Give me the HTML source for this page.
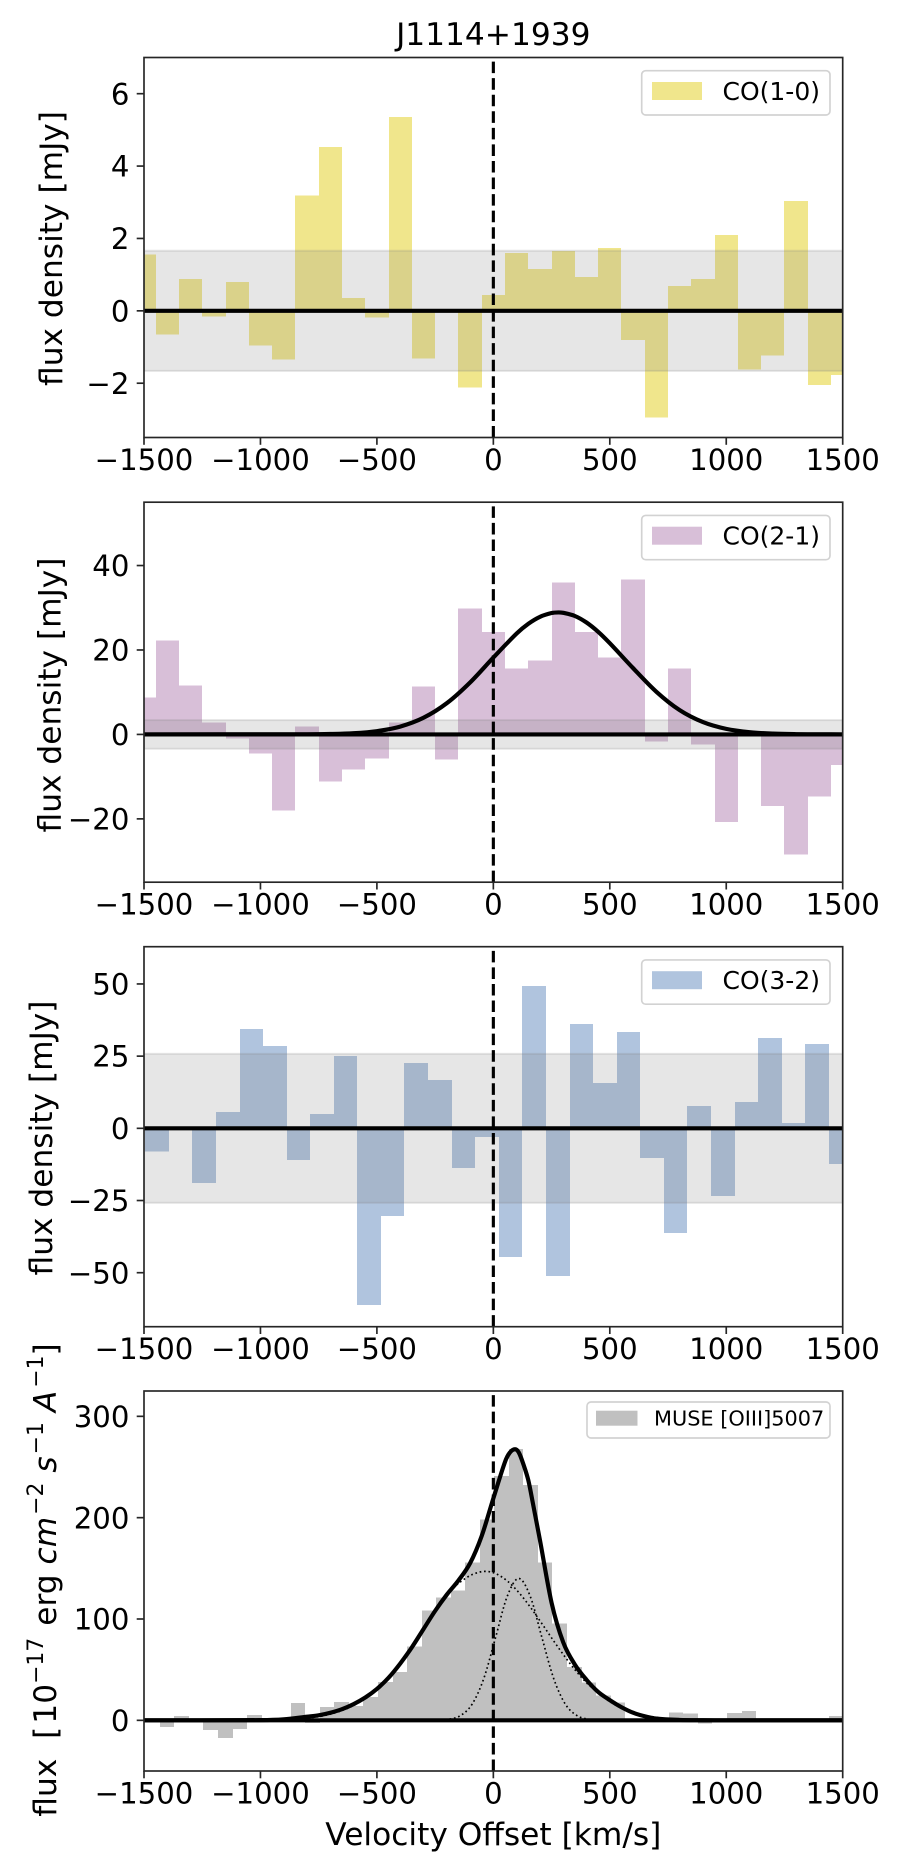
<!DOCTYPE html>
<html lang="en">
<head>
<meta charset="utf-8">
<title>J1114+1939 spectra</title>
<style>
html,body{margin:0;padding:0;background:#fff;}
svg{display:block;font-family:"DejaVu Sans","Liberation Sans",sans-serif;fill:#000;}
text{white-space:pre;}
.tick{font-size:29.17px;}
.axt{font-size:31.25px;}
.leg{font-size:25px;}
</style>
</head>
<body>
<svg id="fig" xmlns="http://www.w3.org/2000/svg" width="900" height="1875" viewBox="0 0 900 1875">
  <rect x="0" y="0" width="900" height="1875" fill="#fff"/>
  <defs>
    <clipPath id="clip-p1"><rect x="144" y="57.5" width="698.7" height="380"/></clipPath>
    <clipPath id="clip-p2"><rect x="144" y="502.2" width="698.7" height="380"/></clipPath>
    <clipPath id="clip-p3"><rect x="144" y="946.7" width="698.7" height="380"/></clipPath>
    <clipPath id="clip-p4"><rect x="144" y="1391" width="698.7" height="380"/></clipPath>
  </defs>
  <text x="493.3" y="45" text-anchor="middle" class="axt">J1114+1939</text>

  <g id="p1"></g>
  <g id="p2"></g>
  <g id="p3"></g>
  <g id="p4"></g>

  <text class="axt" text-anchor="middle" transform="translate(62 248.5) rotate(-90)">flux density [mJy]</text>
  <text class="axt" text-anchor="middle" transform="translate(60.5 695) rotate(-90)">flux density [mJy]</text>
  <text class="axt" text-anchor="middle" transform="translate(52 1138) rotate(-90)">flux density [mJy]</text>
  <text class="axt" text-anchor="middle" transform="translate(56 1580) rotate(-90)">flux  [<tspan dx="3">10</tspan><tspan font-size="21.9" dy="-13">−17</tspan><tspan dy="13" dx="2"> erg </tspan><tspan font-style="italic">cm</tspan><tspan font-size="21.9" dy="-13" dx="2">−2</tspan><tspan dy="13"> </tspan><tspan font-style="italic">s</tspan><tspan font-size="21.9" dy="-13" dx="2">−1</tspan><tspan dy="13"> </tspan><tspan font-style="italic">A</tspan><tspan font-size="21.9" dy="-13" dx="3">−1</tspan><tspan dy="13">]</tspan></text>
  <text class="axt" x="493.3" y="1845" text-anchor="middle">Velocity Offset [km/s]</text>

  <g>
    <rect x="641.7" y="70.7" width="188.3" height="44.3" rx="4" fill="#fff" stroke="#d2d2d2" stroke-width="1.67"/>
    <rect x="652" y="82" width="50" height="18" fill="#F0E68C"/>
    <text class="leg" x="722.5" y="100">CO(1-0)</text>
  </g>
  <g>
    <rect x="641.7" y="515.4" width="188.3" height="44.3" rx="4" fill="#fff" stroke="#d2d2d2" stroke-width="1.67"/>
    <rect x="652" y="526.7" width="50" height="18" fill="#D8BFD8"/>
    <text class="leg" x="722.5" y="544.7">CO(2-1)</text>
  </g>
  <g>
    <rect x="641.7" y="959.9" width="188.3" height="44.3" rx="4" fill="#fff" stroke="#d2d2d2" stroke-width="1.67"/>
    <rect x="652" y="971.2" width="50" height="18" fill="#B0C4DE"/>
    <text class="leg" x="722.5" y="989.2">CO(3-2)</text>
  </g>
  <g>
    <rect x="587" y="1402" width="243" height="36" rx="4" fill="#fff" stroke="#d2d2d2" stroke-width="1.67"/>
    <rect x="596" y="1410.7" width="41.5" height="15" fill="#C0C0C0"/>
    <text font-size="20.83" x="654" y="1425.7">MUSE [OIII]5007</text>
  </g>
</svg>
<script>
// ---- shared axis data ----
const xLimits = [-1500, 1500];
const xTickValues = [-1500, -1000, -500, 0, 500, 1000, 1500];

// ---- CO(1-0) ----
const co10Velocity = [-1500,-1400,-1300,-1200,-1100,-1000,-900,-800,-700,-600,-500,-400,-300,-200,-100,0,100,200,300,400,500,600,700,800,900,1000,1100,1200,1300,1400,1500];
const co10Flux = [1.55,-0.65,0.88,-0.16,0.80,-0.96,-1.35,3.18,4.53,0.36,-0.18,5.36,-1.32,0.01,-2.12,0.44,1.60,1.16,1.66,0.94,1.74,-0.80,-2.95,0.69,0.88,2.10,-1.62,-1.24,3.04,-2.05,-1.77];
const co10YLimits = [-3.5, 7];
const co10YTicks = [-2, 0, 2, 4, 6];
const co10Noise = [1.66];

// ---- CO(2-1) ----
const co21Velocity = [-1500,-1400,-1300,-1200,-1100,-1000,-900,-800,-700,-600,-500,-400,-300,-200,-100,0,100,200,300,400,500,600,700,800,900,1000,1100,1200,1300,1400,1500];
const co21Flux = [8.76,22.3,11.6,2.84,-0.95,-4.5,-18,1.9,-11.1,-8.3,-5.7,2.84,11.4,-5.9,29.8,24.2,15.6,17.5,36,24.2,18.2,36.7,-1.66,15.6,-2.4,-20.8,0,-17,-28.4,-14.7,-7.3];
const co21YLimits = [-35, 55];
const co21YTicks = [-20, 0, 20, 40];
const co21Noise = [3.4];
const co21FitVelocity = [-1500,-800,-700,-600,-500,-400,-300,-200,-100,0,100,150,200,250,280,300,350,400,450,500,600,700,800,900,1000,1100,1200,1300,1400,1500];
const co21FitFlux = [0,0.03,0.10,0.29,0.78,1.86,3.94,7.39,12.3,18.2,23.9,26.2,27.85,28.76,28.9,28.8,28.05,26.5,24.3,21.6,15.7,10.1,5.75,2.92,1.31,0.53,0.19,0.06,0.02,0];

// ---- CO(3-2) ----
const co32Velocity = [-1444,-1343,-1242,-1140,-1039,-938,-837,-736,-634,-533,-432,-331,-230,-128,-27,74,175,276,378,479,580,681,782,884,985,1086,1187,1288,1390,1491];
const co32Flux = [-8.1,0.7,-18.9,5.66,34.4,28.5,-11,5,25,-61.2,-30.3,22.6,16.7,-13.7,-3,-44.6,49.3,-51.2,36.1,15.7,33.4,-10.3,-36.3,7.7,-23.4,9.1,31.3,1.85,29.2,-12.4];
const co32YLimits = [-68.7, 62.9];
const co32YTicks = [-50, -25, 0, 25, 50];
const co32Noise = [25.8];

// ---- MUSE [OIII]5007 ----
const oiiiVelocity = [-1463,-1401,-1339,-1276,-1214,-1151,-1089,-1026,-964,-901,-839,-777,-714,-652,-589,-527,-464,-402,-339,-277,-215,-152,-90,-27,35,98,160,222,285,347,410,472,535,597,660,722,784,847,909,972,1034,1097,1159,1221,1284,1346,1409,1471];
const oiiiFlux = [0.2,-6.6,4.3,-2.3,-9.5,-17.4,-8.6,5.3,0.5,1,17.1,-2.6,13.2,18,14,23,37.8,47.7,73,108.5,121,128.3,156,198,241,268,232,156,95.4,52.6,37.2,24.3,17.8,0.3,0.5,1,7.9,6.9,-3.3,0.2,7.2,9.2,0.5,-2.3,0.2,0.2,0.2,4.3];
const oiiiYLimits = [-50, 325];
const oiiiYTicks = [0, 100, 200, 300];
const oiiiTotalVelocity = [-1500,-1000,-900,-800,-750,-700,-650,-600,-550,-500,-450,-400,-350,-300,-250,-200,-150,-100,-50,0,50,70,93,110,130,150,170,200,250,300,350,400,450,500,550,600,650,700,800,900,1000,1500];
const oiiiTotalFlux = [0,0.2,1,3.6,5,7.5,11,16,22.5,31,42,56,72,90,108,124,138,155,182,219,255,264,267.5,264,252,237,214,178,116,77,55,40,28,20,13,7.5,4,1.7,0.4,0.1,0,0];
const oiiiBroadVelocity = [-1500,-989,-889,-789,-689,-589,-489,-389,-339,-289,-239,-189,-139,-89,-36,11,61,111,161,211,261,311,361,411,511,611,711,811,911,1011,1500];
const oiiiBroadFlux = [0,0.2,0.76,2.4,6.8,16,32,59,76,93,112,127,137,144,147,144.7,137.3,125.7,111,94.6,77.7,61.6,47,34.7,16.9,7.1,2.6,0.82,0.22,0.05,0];
const oiiiNarrowVelocity = [-1500,-241,-191,-141,-91,-41,9,59,109,159,209,259,309,359,409,459,1500];
const oiiiNarrowFlux = [0,0.17,1.06,4.7,16,41.3,81.3,122,140,122,81.3,41.3,16,4.7,1.06,0.17,0];

const SVG_NS = 'http://www.w3.org/2000/svg';
const AX_LEFT = 144, AX_WIDTH = 698.7, AX_HEIGHT = 380;

function make(tag, parent, attrs) {
  const el = document.createElementNS(SVG_NS, tag);
  for (const k in attrs) el.setAttribute(k, attrs[k]);
  parent.appendChild(el);
  return el;
}
function xScale(v) {
  return AX_LEFT + (v - xLimits[0]) / (xLimits[1] - xLimits[0]) * AX_WIDTH;
}
function yScaleFor(top, lim) {
  return function (f) { return top + (lim[1] - f) / (lim[1] - lim[0]) * AX_HEIGHT; };
}
function fmt(n) {
  return n < 0 ? '\u2212' + Math.abs(n) : String(n);
}
function smoothPath(vs, fs, yScale) {
  const pts = vs.map(function (v, i) { return [xScale(v), yScale(fs[i])]; });
  let d = 'M' + pts[0][0].toFixed(2) + ' ' + pts[0][1].toFixed(2);
  for (let i = 0; i < pts.length - 1; i++) {
    const p0 = pts[Math.max(0, i - 1)], p1 = pts[i], p2 = pts[i + 1], p3 = pts[Math.min(pts.length - 1, i + 2)];
    const seg = p2[0] - p1[0];
    const s1 = (p2[1] - p0[1]) / Math.max(1e-6, p2[0] - p0[0]);
    const s2 = (p3[1] - p1[1]) / Math.max(1e-6, p3[0] - p1[0]);
    const c1x = p1[0] + seg / 3, c1y = p1[1] + s1 * seg / 3;
    const c2x = p2[0] - seg / 3, c2y = p2[1] - s2 * seg / 3;
    d += 'C' + c1x.toFixed(2) + ' ' + c1y.toFixed(2) + ' ' + c2x.toFixed(2) + ' ' + c2y.toFixed(2) + ' ' + p2[0].toFixed(2) + ' ' + p2[1].toFixed(2);
  }
  return d;
}

function drawPanel(groupId, clipId, top, velocity, flux, binWidth, color, yLim, yTicks, noise) {
  const g = document.getElementById(groupId);
  const y = yScaleFor(top, yLim);
  const plot = make('g', g, { 'clip-path': 'url(#' + clipId + ')' });
  
  

  velocity.forEach(function (v, i) {
    const leftEdge = i > 0 ? (velocity[i - 1] + v) / 2 : v - binWidth / 2;
    const rightEdge = i < velocity.length - 1 ? (v + velocity[i + 1]) / 2 : v + binWidth / 2;
    const x0 = Math.round(xScale(leftEdge)), x1 = Math.round(xScale(rightEdge));
    const y0 = y(Math.max(flux[i], 0)), y1 = y(Math.min(flux[i], 0));
    const bar = make('rect', plot, { x: x0, y: y0, width: x1 - x0, height: y1 - y0, fill: color, 'shape-rendering': 'crispEdges' });
    
    
  });

  if (noise.length) {
    const band = make('rect', plot, {
      x: AX_LEFT, y: y(noise[0]), width: AX_WIDTH, height: y(-noise[0]) - y(noise[0]),
      fill: 'rgb(128,128,128)', 'fill-opacity': 0.2, stroke: 'rgb(128,128,128)', 'stroke-opacity': 0.2, 'stroke-width': 2
    });
    
    
  }

  // spines
  const frame = make('rect', g, { x: AX_LEFT, y: top, width: AX_WIDTH, height: AX_HEIGHT, fill: 'none', stroke: '#262626', 'stroke-width': 1.67 });
  
  

  // x ticks
  xTickValues.forEach(function (t) {
    const tx = xScale(t);
    const tick = make('line', g, { x1: tx, x2: tx, y1: top + AX_HEIGHT, y2: top + AX_HEIGHT + 7.3, stroke: '#262626', 'stroke-width': 1.67 });
    
    
    const label = make('text', g, { x: tx, y: top + AX_HEIGHT + 32.5, 'text-anchor': 'middle', class: 'tick' });
    label.textContent = fmt(t);
    
    
  });

  // y ticks
  yTicks.forEach(function (t) {
    const ty = y(t);
    const tick = make('line', g, { x1: AX_LEFT - 7.3, x2: AX_LEFT, y1: ty, y2: ty, stroke: '#262626', 'stroke-width': 1.67 });
    
    
    const label = make('text', g, { x: AX_LEFT - 14.6, y: ty + 10.6, 'text-anchor': 'end', class: 'tick' });
    label.textContent = fmt(t);
    
    
  });
  return { plot: plot, y: y };
}

function drawOverlays(panel) {
  const zero = make('line', panel.plot, { x1: AX_LEFT, x2: AX_LEFT + AX_WIDTH, y1: panel.y(0), y2: panel.y(0), stroke: '#000', 'stroke-width': 4.17 });
  
  
  const x0 = xScale(0);
  const bottom = panel.y(panel.lim[0]), top = panel.y(panel.lim[1]);
  const dash = make('line', panel.plot, { x1: x0, x2: x0, y1: bottom, y2: top, stroke: '#000', 'stroke-width': 3.13, 'stroke-dasharray': '11.56 5' });
  
  
}

const p1 = drawPanel('p1', 'clip-p1', 57.5, co10Velocity, co10Flux, 100, '#F0E68C', co10YLimits, co10YTicks, co10Noise);
p1.lim = co10YLimits;
drawOverlays(p1);

const p2 = drawPanel('p2', 'clip-p2', 502.2, co21Velocity, co21Flux, 100, '#D8BFD8', co21YLimits, co21YTicks, co21Noise);
p2.lim = co21YLimits;
const co21Fit = make('path', p2.plot, { d: smoothPath(co21FitVelocity, co21FitFlux, p2.y), fill: 'none', stroke: '#000', 'stroke-width': 4.17 });


drawOverlays(p2);

const p3 = drawPanel('p3', 'clip-p3', 946.7, co32Velocity, co32Flux, 101.2, '#B0C4DE', co32YLimits, co32YTicks, co32Noise);
p3.lim = co32YLimits;
drawOverlays(p3);

const p4 = drawPanel('p4', 'clip-p4', 1391, oiiiVelocity, oiiiFlux, 62.44, '#C0C0C0', oiiiYLimits, oiiiYTicks, []);
p4.lim = oiiiYLimits;
const oiiiBroad = make('path', p4.plot, { d: smoothPath(oiiiBroadVelocity, oiiiBroadFlux, p4.y), fill: 'none', stroke: '#000', 'stroke-width': 1.67, 'stroke-dasharray': '1.67 2.76' });


const oiiiNarrow = make('path', p4.plot, { d: smoothPath(oiiiNarrowVelocity, oiiiNarrowFlux, p4.y), fill: 'none', stroke: '#000', 'stroke-width': 1.67, 'stroke-dasharray': '1.67 2.76' });


const oiiiTotal = make('path', p4.plot, { d: smoothPath(oiiiTotalVelocity, oiiiTotalFlux, p4.y), fill: 'none', stroke: '#000', 'stroke-width': 4.17 });


drawOverlays(p4);
</script>
</body>
</html>
